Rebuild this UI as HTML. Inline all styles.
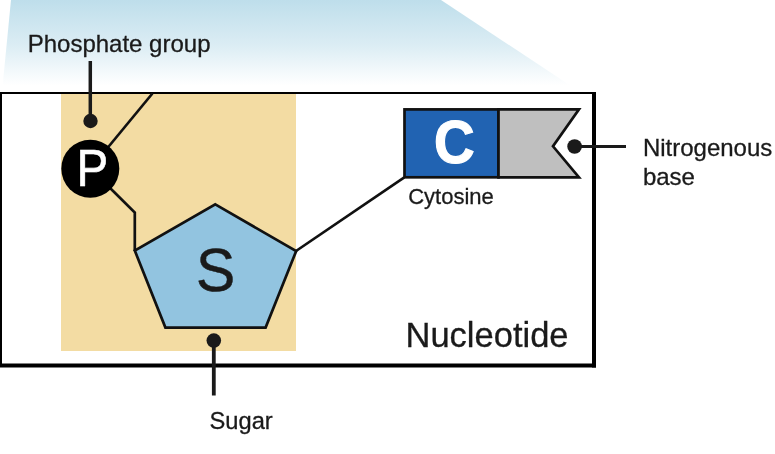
<!DOCTYPE html>
<html><head><meta charset="utf-8">
<style>
html,body{margin:0;padding:0;background:#fff;}
body{width:775px;height:454px;overflow:hidden;}
svg{display:block;will-change:transform;}
text{font-family:"Liberation Sans",sans-serif;}
.lb{stroke:#1a1a1a;stroke-width:0.3px;}
</style></head>
<body>
<svg width="775" height="454" viewBox="0 0 775 454">
<defs>
<linearGradient id="sky" x1="0" y1="0" x2="0" y2="1">
<stop offset="0" stop-color="#bedeeb"/>
<stop offset="0.5" stop-color="#dcedf4"/>
<stop offset="0.8" stop-color="#f5fafc"/>
<stop offset="0.93" stop-color="#ffffff"/>
</linearGradient>
</defs>
<polygon points="11,0 441,0 580,92 2,92" fill="url(#sky)"/>
<!-- box -->
<rect x="0" y="92" width="596" height="276" fill="#fff"/>
<!-- tan -->
<rect x="61" y="94" width="235" height="257" fill="#f3dca3"/>
<!-- box border -->
<path d="M1,93 H594 V365.5 H1 Z" fill="none" stroke="#000" stroke-width="2"/>
<rect x="592" y="92" width="4" height="275.5" fill="#000"/>
<rect x="0" y="363.5" width="596" height="4" fill="#000"/>

<!-- phosphate pointer -->
<line x1="90.3" y1="61" x2="90.3" y2="121" stroke="#1a1a1a" stroke-width="3.5"/>
<circle cx="90.5" cy="121" r="7.2" fill="#1a1a1a"/>

<!-- connection lines -->
<line x1="152.4" y1="93.5" x2="105" y2="151" stroke="#111" stroke-width="2.7"/>
<polyline points="105,183 134.8,212.6 134.8,251" fill="none" stroke="#111" stroke-width="2.7"/>
<line x1="296" y1="251" x2="404.3" y2="177.3" stroke="#111" stroke-width="2.7"/>

<!-- P circle -->
<circle cx="90.3" cy="168.7" r="29" fill="#000"/>
<text transform="translate(76.4,185.9) scale(0.914,1)" font-size="52" fill="#fff" stroke="#fff" stroke-width="0.6">P</text>

<!-- pentagon -->
<polygon points="215.3,204.4 296.2,251 265.6,327.6 165.4,327.6 134.8,250.6" fill="#92c4e0" stroke="#111" stroke-width="2.7" stroke-linejoin="miter"/>
<text transform="translate(196.0,291.1) scale(0.965,1)" font-size="60.9" fill="#1a1a1a" stroke="#1a1a1a" stroke-width="0.5">S</text>

<!-- sugar pointer -->
<line x1="213.8" y1="340" x2="213.8" y2="395.5" stroke="#1a1a1a" stroke-width="3.8"/>
<circle cx="213.8" cy="340.6" r="7.3" fill="#1a1a1a"/>
<text x="209.5" y="428.7" font-size="23.7" fill="#1a1a1a" class="lb">Sugar</text>

<!-- flag -->
<rect x="404.5" y="109.4" width="94" height="67.9" fill="#2163b2" stroke="#111" stroke-width="2.7"/>
<polygon points="498.5,109.4 579,109.4 553,146.3 579,177.3 498.5,177.3" fill="#bfbfbf" stroke="#111" stroke-width="2.7" stroke-linejoin="miter"/>
<text transform="translate(433.9,163.2) scale(0.927,1)" font-size="60.7" font-weight="bold" fill="#fff" stroke="#fff" stroke-width="1.2">C</text>
<text transform="translate(408.2,203.8) scale(0.975,1)" font-size="22.6" fill="#1a1a1a" class="lb">Cytosine</text>

<!-- nitrogenous pointer -->
<line x1="574" y1="146.6" x2="626" y2="146.6" stroke="#1a1a1a" stroke-width="3"/>
<circle cx="574.6" cy="146.5" r="7.3" fill="#1a1a1a"/>
<text x="642.9" y="155.8" font-size="24" fill="#1a1a1a" class="lb">Nitrogenous</text>
<text x="642.9" y="184.5" font-size="24" fill="#1a1a1a" class="lb">base</text>

<text x="27.7" y="51.7" font-size="24" fill="#1a1a1a" class="lb">Phosphate group</text>
<text x="405.5" y="346.6" font-size="34.5" fill="#1a1a1a" class="lb">Nucleotide</text>
</svg>
</body></html>
